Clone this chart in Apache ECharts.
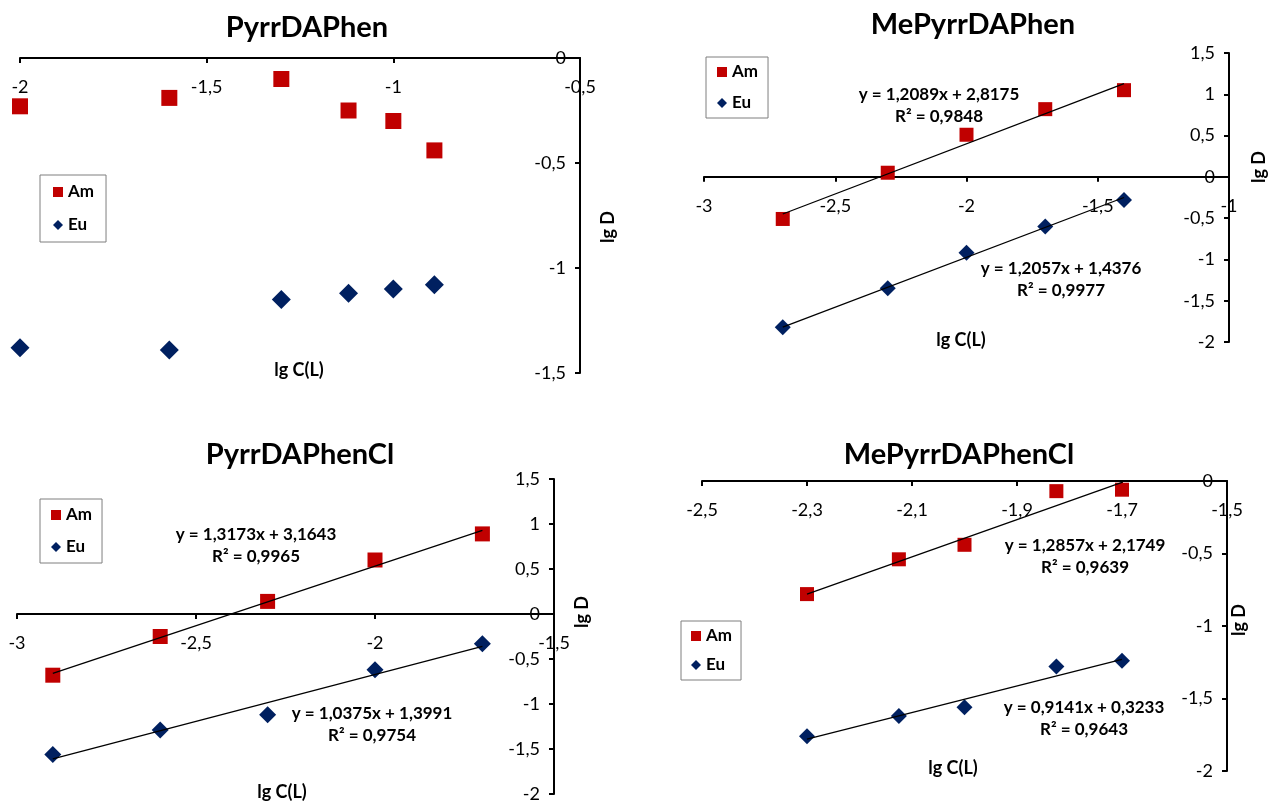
<!DOCTYPE html>
<html>
<head>
<meta charset="utf-8">
<script src="https://cdn.jsdelivr.net/npm/echarts@6/dist/echarts.min.js"></script>
<style>
html,body{margin:0;padding:0;background:#fff;}
#chart{width:1270px;height:803px;}
</style>
</head>
<body>
<div id="chart"></div>
<script>
// ---------- data ----------
const titles = ['PyrrDAPhen', 'MePyrrDAPhen', 'PyrrDAPhenCl', 'MePyrrDAPhenCl'];
const seriesNames = ['Am', 'Eu'];

const p1X  = [-2, -1.6, -1.3, -1.12, -1, -0.89];
const p1Am = [-0.23, -0.19, -0.10, -0.25, -0.30, -0.44];
const p1Eu = [-1.38, -1.39, -1.15, -1.12, -1.10, -1.08];

const p2X  = [-2.7, -2.3, -2.0, -1.7, -1.4];
const p2Am = [-0.51, 0.05, 0.51, 0.82, 1.05];
const p2Eu = [-1.82, -1.35, -0.92, -0.60, -0.28];
const p2AmFit = [-0.45, 1.13];
const p2EuFit = [-1.82, -0.25];

const p3X  = [-2.9, -2.6, -2.3, -2.0, -1.7];
const p3Am = [-0.68, -0.25, 0.14, 0.60, 0.89];
const p3Eu = [-1.56, -1.29, -1.12, -0.62, -0.33];
const p3AmFit = [-0.66, 0.93];
const p3EuFit = [-1.61, -0.36];

const p4X  = [-2.3, -2.125, -2.0, -1.825, -1.7];
const p4Am = [-0.78, -0.54, -0.44, -0.07, -0.06];
const p4Eu = [-1.76, -1.62, -1.56, -1.28, -1.24];
const p4AmFit = [-0.78, -0.01];
const p4EuFit = [-1.78, -1.23];

const eqAm = [null, ['y = 1,2089x + 2,8175', 'R² = 0,9848'], ['y = 1,3173x + 3,1643', 'R² = 0,9965'], ['y = 1,2857x + 2,1749', 'R² = 0,9639']];
const eqEu = [null, ['y = 1,2057x + 1,4376', 'R² = 0,9977'], ['y = 1,0375x + 1,3991', 'R² = 0,9754'], ['y = 0,9141x + 0,3233', 'R² = 0,9643']];

const xRanges = [[-2, -0.5, 0.5], [-3, -1, 0.5], [-3, -1.5, 0.5], [-2.5, -1.5, 0.2]];
const yRanges = [[-1.5, 0, 0.5], [-2, 1.5, 0.5], [-2, 1.5, 0.5], [-2, 0, 0.5]];

// ---------- layout ----------
const grids = [
  {left: 20, top: 58, width: 560, height: 315},
  {left: 704, top: 53, width: 525, height: 289},
  {left: 17, top: 479, width: 537, height: 315},
  {left: 702, top: 481, width: 525, height: 290}
];
const titlePos = [[307, 28], [973, 25], [300, 455], [959, 455]];
const lgDPos = [[608, 227], [1259, 167], [582, 612], [1239, 620]];
const lgCPos = [[299, 370], [961, 340], [282, 792], [953, 768]];
const eqAmPos = [null, [939, 95], [256, 535], [1085, 546]];
const eqEuPos = [null, [1061, 269], [372, 714], [1084, 708]];
const legendBoxes = [
  {left: 40, top: 175, padding: [8, 12, 8, 13], itemGap: 15},
  {left: 706, top: 57, padding: [6, 10, 6, 11], itemGap: 13},
  {left: 40, top: 499, padding: [7, 10, 7, 11], itemGap: 14},
  {left: 681, top: 621, padding: [6, 9, 6, 10], itemGap: 11}
];
const sqSize = [16, 14, 15, 14];
const dmSize = [19, 16, 17, 16];

const RED = '#C00000', BLUE = '#002060';
const FONT = 'Lato, "Open Sans", sans-serif';
const fmt = v => String(+(+v).toFixed(2)).replace('.', ',');

const xData = [p1X, p2X, p3X, p4X];
const amData = [p1Am, p2Am, p3Am, p4Am];
const euData = [p1Eu, p2Eu, p3Eu, p4Eu];
const amFits = [null, p2AmFit, p3AmFit, p4AmFit];
const euFits = [null, p2EuFit, p3EuFit, p4EuFit];

const gridOpts = [], xAxes = [], yAxes = [], series = [], legends = [], graphics = [];
for (let i = 0; i < 4; i++) {
  const g = grids[i];
  const [ymin, ymax] = yRanges[i];
  // plot grid (index 2i) and x-axis grid (index 2i+1) whose top edge lies at y = 0
  const zeroTop = g.top + g.height * (ymax - 0) / (ymax - ymin);
  gridOpts.push({left: g.left, top: g.top, width: g.width, height: g.height, containLabel: false, outerBoundsMode: 'none'});
  gridOpts.push({left: g.left, top: zeroTop, width: g.width, height: g.top + g.height - zeroTop, containLabel: false, outerBoundsMode: 'none'});

  // hidden x axis for the plot grid
  xAxes.push({
    type: 'value', gridIndex: 2 * i, min: xRanges[i][0], max: xRanges[i][1], interval: xRanges[i][2],
    show: false, axisLine: {onZero: false}, splitLine: {show: false}
  });
  // visible x axis at y = 0
  xAxes.push({
    type: 'value', gridIndex: 2 * i + 1, position: 'top',
    min: xRanges[i][0], max: xRanges[i][1], interval: xRanges[i][2],
    axisLine: {show: true, onZero: false, lineStyle: {color: '#000', width: 2}},
    axisTick: {show: true, inside: true, length: 5, lineStyle: {color: '#000', width: 2}},
    axisLabel: {show: true, inside: true, margin: 20, color: '#000', fontSize: 18, fontFamily: FONT, formatter: fmt, showMinLabel: true, showMaxLabel: true, verticalAlign: 'top'},
    splitLine: {show: false}
  });
  // visible y axis on the right of the plot grid
  yAxes.push({
    type: 'value', gridIndex: 2 * i, position: 'right',
    min: ymin, max: ymax, interval: yRanges[i][2],
    axisLine: {show: true, onZero: false, lineStyle: {color: '#000', width: 2}},
    axisTick: {show: true, inside: true, length: 5, lineStyle: {color: '#000', width: 2}},
    axisLabel: {show: true, inside: true, margin: 14, color: '#000', fontSize: 18, fontFamily: FONT, formatter: fmt, showMinLabel: true, showMaxLabel: true},
    splitLine: {show: false}
  });
  // hidden y axis for the x-axis grid
  yAxes.push({
    type: 'value', gridIndex: 2 * i + 1, min: 0, max: 1, show: false,
    axisLine: {onZero: false}, splitLine: {show: false}
  });

  const xs = xData[i];
  const xi = 2 * i, yi = 2 * i;
  series.push({
    name: 'Am', type: 'scatter', xAxisIndex: xi, yAxisIndex: yi,
    symbol: 'rect', symbolSize: sqSize[i], itemStyle: {color: RED, opacity: 1},
    data: xs.map((x, k) => [x, amData[i][k]]), z: 3
  });
  series.push({
    name: 'Eu', type: 'scatter', xAxisIndex: xi, yAxisIndex: yi,
    symbol: 'diamond', symbolSize: dmSize[i], itemStyle: {color: BLUE, opacity: 1},
    data: xs.map((x, k) => [x, euData[i][k]]), z: 3
  });
  if (amFits[i]) {
    const x0 = xs[0], x1 = xs[xs.length - 1];
    series.push({
      name: 'AmFit', type: 'line', xAxisIndex: xi, yAxisIndex: yi, showSymbol: false, symbol: 'none',
      lineStyle: {color: '#000', width: 1.3}, data: [[x0, amFits[i][0]], [x1, amFits[i][1]]], z: 5, silent: true
    });
    series.push({
      name: 'EuFit', type: 'line', xAxisIndex: xi, yAxisIndex: yi, showSymbol: false, symbol: 'none',
      lineStyle: {color: '#000', width: 1.3}, data: [[x0, euFits[i][0]], [x1, euFits[i][1]]], z: 5, silent: true
    });
  }
  const lb = legendBoxes[i];
  legends.push({
    left: lb.left, top: lb.top, orient: 'vertical', padding: lb.padding, itemGap: lb.itemGap,
    itemWidth: 10, itemHeight: 10, itemStyle: {borderWidth: 0}, itemSymbolKeepAspect: true,
    borderColor: '#7f7f7f', borderWidth: 1, selectedMode: false,
    textStyle: {fontFamily: FONT, fontSize: 17, fontWeight: 'bold', color: '#000', lineHeight: 18},
    data: [{name: seriesNames[0], icon: 'rect'}, {name: seriesNames[1], icon: 'diamond'}]
  });
  graphics.push({type: 'text', x: titlePos[i][0], y: titlePos[i][1], z: 10,
    style: {text: titles[i], font: 'bold 29px ' + FONT, fill: '#000', textAlign: 'center', textVerticalAlign: 'middle'}});
  graphics.push({type: 'text', x: lgDPos[i][0], y: lgDPos[i][1], rotation: Math.PI / 2, z: 10,
    style: {text: 'lg D', font: 'bold 18px ' + FONT, fill: '#000', textAlign: 'center', textVerticalAlign: 'middle'}});
  graphics.push({type: 'text', x: lgCPos[i][0], y: lgCPos[i][1], z: 10,
    style: {text: 'lg C(L)', font: 'bold 18px ' + FONT, fill: '#000', textAlign: 'center', textVerticalAlign: 'middle'}});
  if (eqAm[i]) {
    for (let r = 0; r < 2; r++) {
      graphics.push({type: 'text', x: eqAmPos[i][0], y: eqAmPos[i][1] + r * 22, z: 10,
        style: {text: eqAm[i][r], font: 'bold 17px ' + FONT, fill: '#000', textAlign: 'center', textVerticalAlign: 'middle'}});
      graphics.push({type: 'text', x: eqEuPos[i][0], y: eqEuPos[i][1] + r * 22, z: 10,
        style: {text: eqEu[i][r], font: 'bold 17px ' + FONT, fill: '#000', textAlign: 'center', textVerticalAlign: 'middle'}});
    }
  }
}

const chart = echarts.init(document.getElementById('chart'), null, {renderer: 'canvas'});
chart.setOption({
  animation: false,
  backgroundColor: '#fff',
  grid: gridOpts,
  xAxis: xAxes,
  yAxis: yAxes,
  legend: legends,
  series: series,
  graphic: graphics
});
</script>
</body>
</html>
